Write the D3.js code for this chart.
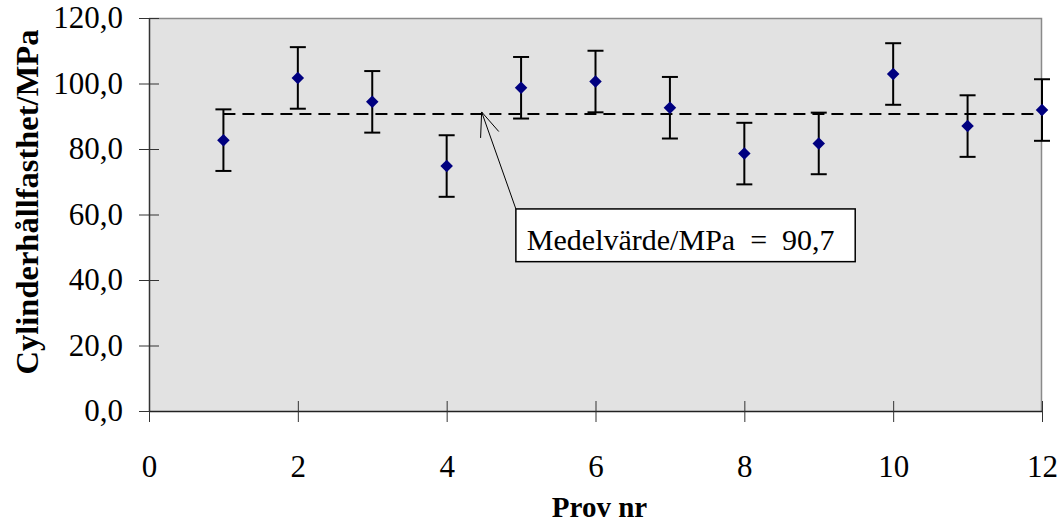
<!DOCTYPE html>
<html>
<head>
<meta charset="utf-8">
<script src="https://cdn.jsdelivr.net/npm/d3@7"></script>
<style>
  html, body { margin: 0; padding: 0; background: #fff; }
  svg { display: block; }
  svg text { font-family: "Liberation Serif", "Times New Roman", serif; }
</style>
</head>
<body>
<div id="chart"></div>
<script>
// Prov nr 1..12, cylinder strength (MPa) with error bar half-width
const provNr  = [1, 2, 3, 4, 5, 6, 7, 8, 9, 10, 11, 12];
const styrka  = [82.7, 101.7, 94.4, 74.8, 98.7, 100.6, 92.6, 78.6, 81.7, 102.9, 87.0, 91.9];
const fel     = [9.4, 9.4, 9.4, 9.4, 9.4, 9.4, 9.4, 9.4, 9.4, 9.4, 9.4, 9.4];
const medel   = 90.7;
const xTicks  = [0, 2, 4, 6, 8, 10, 12];
const yTicks  = [0, 20, 40, 60, 80, 100, 120];

const W = 1058, H = 524;
const margin = { top: 18, right: 16, bottom: 113, left: 149 };
const width  = W - margin.left - margin.right;
const height = H - margin.top - margin.bottom;

const svg = d3.select("#chart").append("svg")
  .attr("width", W).attr("height", H);

const g = svg.append("g")
  .attr("transform", `translate(${margin.left},${margin.top})`);

const x = d3.scaleLinear().domain([0, 12]).range([0, width]);
const y = d3.scaleLinear().domain([0, 120]).range([height, 0]);

const fmt = (d) => d3.format(".1f")(d).replace(".", ",");

// Plot background
g.append("rect")
  .attr("width", width).attr("height", height)
  .attr("fill", "#e2e2e2");

// Top / right frame
g.append("path")
  .attr("d", `M0,0.5H${width - 0.5}V${height}`)
  .attr("fill", "none").attr("stroke", "#8a8a8a").attr("stroke-width", 1.5);

// Y axis (cross ticks)
const yAxis = g.append("g")
  .call(d3.axisLeft(y).tickValues(yTicks).tickSize(10).tickSizeOuter(0).tickFormat(fmt));
yAxis.attr("font-family", null);
yAxis.select(".domain").attr("stroke", "#333").attr("stroke-width", 1.5);
yAxis.selectAll(".tick line").attr("x2", 10).attr("x1", -10).attr("stroke", "#333");
yAxis.selectAll(".tick text")
  .attr("x", -26)
  .attr("font-size", "31px").attr("fill", "#000");

// X axis (cross ticks)
const xAxis = g.append("g")
  .attr("transform", `translate(0,${height})`)
  .call(d3.axisBottom(x).tickValues(xTicks).tickSize(10).tickSizeOuter(0).tickFormat(d3.format("d")));
xAxis.attr("font-family", null);
xAxis.select(".domain").attr("stroke", "#222").attr("stroke-width", 1.5);
xAxis.selectAll(".tick line").attr("y1", -10).attr("y2", 11).attr("stroke", "#333");
xAxis.selectAll(".tick text")
  .attr("y", 44)
  .attr("font-size", "31px").attr("fill", "#000");

// Mean line
g.append("line")
  .attr("x1", x(1)).attr("x2", x(12))
  .attr("y1", y(medel)).attr("y2", y(medel))
  .attr("stroke", "#000").attr("stroke-width", 2)
  .attr("stroke-dasharray", "12,7");

// Error bars
const data = provNr.map((p, i) => ({ p, v: styrka[i], e: fel[i] }));
const eb = g.selectAll(".eb").data(data).join("g").attr("class", "eb")
  .attr("stroke", "#000").attr("stroke-width", 2);
eb.append("line")
  .attr("x1", (d) => x(d.p)).attr("x2", (d) => x(d.p))
  .attr("y1", (d) => y(d.v + d.e)).attr("y2", (d) => y(d.v - d.e));
eb.append("line")
  .attr("x1", (d) => x(d.p) - 8).attr("x2", (d) => x(d.p) + 8)
  .attr("y1", (d) => y(d.v + d.e)).attr("y2", (d) => y(d.v + d.e));
eb.append("line")
  .attr("x1", (d) => x(d.p) - 8).attr("x2", (d) => x(d.p) + 8)
  .attr("y1", (d) => y(d.v - d.e)).attr("y2", (d) => y(d.v - d.e));

// Diamonds
g.selectAll(".dot").data(data).join("path")
  .attr("class", "dot")
  .attr("d", d3.symbol(d3.symbolDiamond2, 100))
  .attr("transform", (d) => `translate(${x(d.p)},${y(d.v)})`)
  .attr("fill", "#000080");

// Annotation box + arrow
const box = { x0: 4.93, x1: 9.49, yTop: 61.7, yBot: 45.6 };
const tip = { x: 4.47, y: medel };
const bx = x(box.x0), by = y(box.yTop);
const tx = x(tip.x), ty = y(tip.y) - 2;

g.append("line")
  .attr("x1", bx).attr("y1", by).attr("x2", tx).attr("y2", ty)
  .attr("stroke", "#000").attr("stroke-width", 1);
const ang = Math.atan2(by - ty, bx - tx);
[0.38, -0.38].forEach((da) => {
  g.append("line")
    .attr("x1", tx).attr("y1", ty)
    .attr("x2", tx + 26 * Math.cos(ang + da))
    .attr("y2", ty + 26 * Math.sin(ang + da))
    .attr("stroke", "#000").attr("stroke-width", 1);
});

g.append("rect")
  .attr("x", bx).attr("y", by)
  .attr("width", x(box.x1) - bx).attr("height", y(box.yBot) - by)
  .attr("fill", "#fff").attr("stroke", "#000").attr("stroke-width", 1.5);
g.append("text")
  .attr("x", bx + 11).attr("y", by + 41)
  .attr("font-size", "30px").attr("fill", "#000")
  .attr("xml:space", "preserve")
  .text("Medelvärde/MPa  =  " + fmt(medel));

// Axis titles
svg.append("text")
  .attr("x", margin.left + x(6) + 4).attr("y", 517)
  .attr("text-anchor", "middle")
  .attr("font-weight", "bold").attr("font-size", "29px")
  .text("Prov nr");

svg.append("text")
  .attr("transform", `translate(38,202) rotate(-90)`)
  .attr("text-anchor", "middle")
  .attr("font-weight", "bold").attr("font-size", "32.5px")
  .text("Cylinderhållfasthet/MPa");
</script>
</body>
</html>
